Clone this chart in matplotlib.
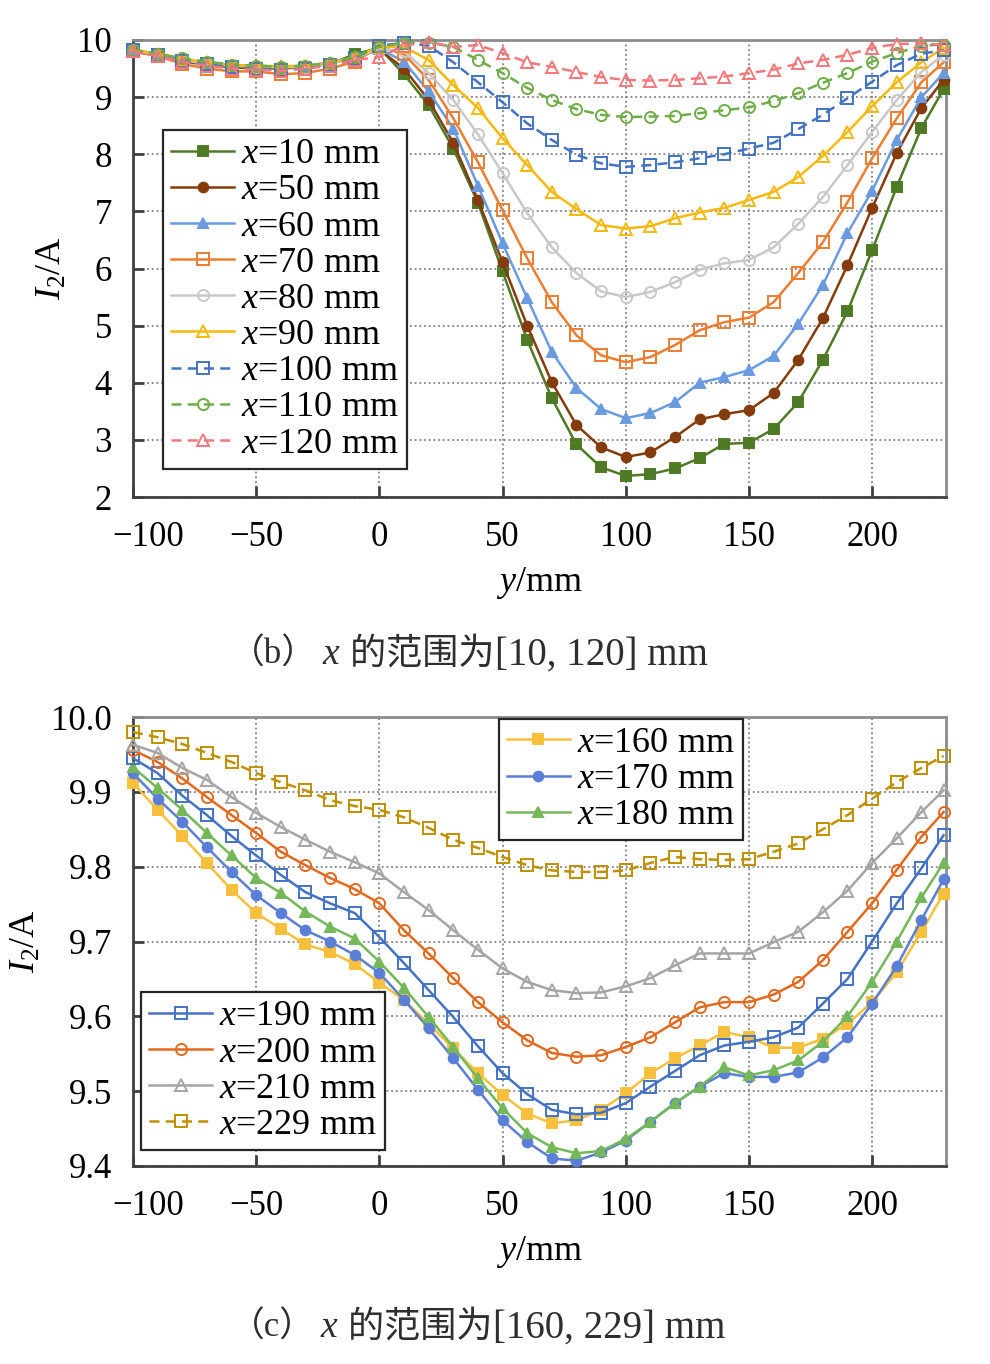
# 两幅 I2 随 y 变化曲线（b、c）
import matplotlib.pyplot as plt
from matplotlib.ticker import FormatStrFormatter
from matplotlib.transforms import ScaledTranslation

plt.rcParams['font.family'] = ['Liberation Serif', 'Noto Sans CJK SC']
plt.rcParams['mathtext.fontset'] = 'custom'
plt.rcParams['mathtext.rm'] = 'Liberation Serif'
plt.rcParams['mathtext.it'] = 'Liberation Serif:italic'
plt.rcParams['axes.unicode_minus'] = True

# 测量点位置 y/mm
y_pos = [-100, -90, -80, -70, -60, -50, -40, -30, -20, -10, 0,
         10, 20, 30, 40, 50, 60, 70, 80, 90, 100, 110, 120, 130, 140,
         150, 160, 170, 180, 190, 200, 210, 220, 229]

# ---- (b) x = 10 ~ 120 mm ----
i_10 = [9.82, 9.74, 9.62, 9.57, 9.52, 9.50, 9.50, 9.52, 9.58, 9.75, 9.86,
        9.40, 8.86, 8.10, 7.15, 5.95, 4.75, 3.73, 2.92, 2.52, 2.37, 2.40, 2.50,
        2.68, 2.93, 2.95, 3.19, 3.66, 4.40, 5.25, 6.32, 7.43, 8.46, 9.14]
i_50 = [9.80, 9.73, 9.63, 9.58, 9.53, 9.52, 9.51, 9.54, 9.60, 9.70, 9.83,
        9.50, 8.95, 8.20, 7.20, 6.11, 5.00, 4.01, 3.26, 2.87, 2.70, 2.78, 3.05,
        3.36, 3.45, 3.52, 3.82, 4.40, 5.13, 6.06, 7.06, 8.02, 8.81, 9.30]
i_60 = [9.82, 9.75, 9.66, 9.60, 9.55, 9.55, 9.53, 9.55, 9.60, 9.70, 9.85,
        9.62, 9.10, 8.45, 7.45, 6.44, 5.48, 4.54, 3.91, 3.54, 3.38, 3.47, 3.66,
        4.00, 4.10, 4.22, 4.47, 5.03, 5.71, 6.62, 7.36, 8.25, 9.00, 9.42]
i_70 = [9.80, 9.72, 9.58, 9.50, 9.45, 9.45, 9.40, 9.42, 9.50, 9.62, 9.88,
        9.75, 9.30, 8.63, 7.86, 7.02, 6.18, 5.41, 4.83, 4.48, 4.36, 4.45, 4.66,
        4.92, 5.06, 5.14, 5.41, 5.92, 6.46, 7.16, 7.93, 8.63, 9.26, 9.61]
i_80 = [9.82, 9.75, 9.65, 9.58, 9.55, 9.53, 9.52, 9.53, 9.58, 9.68, 9.85,
        9.80, 9.42, 8.95, 8.35, 7.67, 6.97, 6.37, 5.92, 5.60, 5.50, 5.59, 5.76,
        5.98, 6.09, 6.15, 6.37, 6.78, 7.25, 7.81, 8.39, 8.95, 9.44, 9.74]
i_90 = [9.83, 9.76, 9.67, 9.61, 9.56, 9.55, 9.54, 9.55, 9.60, 9.70, 9.88,
        9.88, 9.65, 9.21, 8.81, 8.28, 7.81, 7.34, 7.04, 6.76, 6.70, 6.74, 6.88,
        6.98, 7.06, 7.20, 7.34, 7.60, 7.97, 8.39, 8.84, 9.26, 9.61, 9.86]
i_100 = [9.82, 9.74, 9.64, 9.58, 9.52, 9.50, 9.48, 9.50, 9.56, 9.68, 9.90,
         9.95, 9.90, 9.61, 9.26, 8.91, 8.54, 8.25, 7.99, 7.84, 7.78, 7.81, 7.86,
         7.93, 8.00, 8.10, 8.20, 8.44, 8.69, 8.98, 9.27, 9.56, 9.76, 9.82]
i_110 = [9.83, 9.76, 9.68, 9.62, 9.57, 9.55, 9.53, 9.55, 9.60, 9.70, 9.88,
         9.95, 9.95, 9.88, 9.65, 9.42, 9.16, 8.95, 8.79, 8.69, 8.65, 8.66, 8.67,
         8.72, 8.77, 8.82, 8.93, 9.07, 9.25, 9.42, 9.62, 9.77, 9.90, 9.92]
i_120 = [9.80, 9.72, 9.62, 9.55, 9.50, 9.48, 9.46, 9.50, 9.55, 9.65, 9.70,
         9.90, 9.97, 9.88, 9.91, 9.77, 9.61, 9.53, 9.44, 9.35, 9.30, 9.29, 9.30,
         9.33, 9.36, 9.42, 9.48, 9.59, 9.65, 9.74, 9.86, 9.93, 9.94, 9.91]
labels_b = ['10', '50', '60', '70', '80', '90', '100', '110', '120']

# ---- (c) x = 160 ~ 229 mm ----
i_160 = [9.912, 9.876, 9.841, 9.805, 9.769, 9.738, 9.717, 9.696, 9.686, 9.670, 9.645,
         9.622, 9.590, 9.557, 9.524, 9.495, 9.470, 9.457, 9.461, 9.475, 9.497, 9.524,
         9.544, 9.561, 9.579, 9.572, 9.558, 9.558, 9.570, 9.590, 9.619, 9.659, 9.713, 9.764]
i_170 = [9.925, 9.891, 9.860, 9.826, 9.793, 9.762, 9.738, 9.715, 9.700, 9.682, 9.658,
         9.622, 9.584, 9.544, 9.502, 9.461, 9.432, 9.410, 9.407, 9.418, 9.434, 9.459,
         9.484, 9.506, 9.524, 9.519, 9.519, 9.525, 9.545, 9.572, 9.617, 9.667, 9.729, 9.783]
i_180 = [9.933, 9.905, 9.876, 9.845, 9.815, 9.785, 9.765, 9.740, 9.720, 9.704, 9.673,
         9.638, 9.599, 9.559, 9.517, 9.477, 9.444, 9.425, 9.417, 9.420, 9.436, 9.459,
         9.484, 9.506, 9.532, 9.521, 9.528, 9.541, 9.566, 9.600, 9.646, 9.700, 9.759, 9.805]
i_190 = [9.945, 9.925, 9.895, 9.869, 9.841, 9.815, 9.789, 9.766, 9.751, 9.738, 9.706,
         9.671, 9.635, 9.599, 9.560, 9.524, 9.496, 9.475, 9.469, 9.471, 9.484, 9.506,
         9.527, 9.548, 9.561, 9.566, 9.572, 9.585, 9.617, 9.650, 9.700, 9.751, 9.798, 9.842]
i_200 = [9.956, 9.940, 9.918, 9.893, 9.869, 9.845, 9.820, 9.802, 9.785, 9.770, 9.751,
         9.715, 9.684, 9.651, 9.619, 9.592, 9.568, 9.551, 9.546, 9.548, 9.559, 9.572,
         9.592, 9.612, 9.619, 9.619, 9.629, 9.646, 9.675, 9.713, 9.751, 9.796, 9.840, 9.873]
i_210 = [9.963, 9.952, 9.932, 9.916, 9.893, 9.872, 9.853, 9.836, 9.820, 9.806, 9.791,
         9.766, 9.742, 9.715, 9.689, 9.664, 9.646, 9.635, 9.631, 9.632, 9.640, 9.651,
         9.668, 9.684, 9.684, 9.684, 9.699, 9.713, 9.739, 9.768, 9.805, 9.838, 9.873, 9.902]
i_229 = [9.980, 9.973, 9.964, 9.952, 9.940, 9.925, 9.913, 9.902, 9.889, 9.881, 9.876,
         9.866, 9.852, 9.836, 9.825, 9.813, 9.802, 9.795, 9.793, 9.793, 9.795, 9.805,
         9.813, 9.810, 9.809, 9.810, 9.820, 9.831, 9.850, 9.869, 9.891, 9.913, 9.932, 9.948]
labels_c = ['160', '170', '180', '190', '200', '210', '229']

dash = (0, (4, 2.5))
# 样式: 颜色, 标记, 是否实心, 线型
styles_b = [('#4e7a26', 's', True, '-'), ('#843c0c', 'o', True, '-'),
            ('#6a9be0', '^', True, '-'), ('#ed7d31', 's', False, '-'),
            ('#c8c8c8', 'o', False, '-'), ('#f5b90f', '^', False, '-'),
            ('#4472c4', 's', False, dash), ('#70ad47', 'o', False, dash),
            ('#f4787c', '^', False, dash)]
styles_c = [('#f7c03c', 's', True, '-'), ('#5b7fd6', 'o', True, '-'),
            ('#74b85a', '^', True, '-'), ('#4472c4', 's', False, '-'),
            ('#e3691e', 'o', False, '-'), ('#a5a5a5', '^', False, '-'),
            ('#bf9000', 's', False, dash)]

fig = plt.figure(figsize=(9.9, 13.64), dpi=100)
ax_b = fig.add_axes([0.1343, 0.6356, 0.8213, 0.3351])
ax_c = fig.add_axes([0.1343, 0.1452, 0.8213, 0.3291])


def plot_lines(ax, data, styles, labels):
    lines = []
    for vals, (clr, mk, filled, ls), lab in zip(data, styles, labels):
        size = 7 if filled else 8
        ln, = ax.plot(y_pos, vals, color=clr, linestyle=ls, linewidth=1.8,
                      marker=mk, markersize=size,
                      markerfacecolor=clr if filled else 'none',
                      markeredgecolor=clr, markeredgewidth=1.4,
                      label='$x$=' + lab + ' mm', clip_on=False, zorder=3)
        lines.append(ln)
    return lines


def style_axes(ax):
    ax.set_xlim(-100, 230)
    ax.set_xticks([-100, -50, 0, 50, 100, 150, 200])
    ax.set_axisbelow(True)
    ax.grid(True, linestyle=(0, (1, 1.6)), color='#808080', linewidth=1.3)
    for side in ['left', 'bottom']:
        ax.spines[side].set_color('#404040')
        ax.spines[side].set_linewidth(2)
    for side in ['top', 'right']:
        ax.spines[side].set_color('#8c8c8c')
        ax.spines[side].set_linewidth(2)
    ax.tick_params(direction='in', length=8, width=2, color='#404040', labelsize=25)
    ax.tick_params(axis='x', pad=17)
    ax.tick_params(axis='y', pad=15)
    ax.set_xlabel('$y$/mm', fontsize=26, labelpad=8)
    ax.set_ylabel('$I_2$/A', fontsize=26, labelpad=6)
    # 第一个刻度标签稍微右移
    lab0 = ax.get_xticklabels()[0]
    lab0.set_transform(lab0.get_transform() + ScaledTranslation(0.15, 0, fig.dpi_scale_trans))


def make_legend(ax, handles, loc, anchor):
    leg = ax.legend(handles=handles, loc=loc, bbox_to_anchor=anchor, borderaxespad=0,
                    fontsize=26, handlelength=1.75, handletextpad=0.2,
                    labelspacing=0.08, borderpad=0.22, fancybox=False,
                    framealpha=1, edgecolor='#262626')
    leg.get_frame().set_linewidth(1.6)
    return leg


# (b)
lines_b = plot_lines(ax_b, [i_10, i_50, i_60, i_70, i_80, i_90, i_100, i_110, i_120],
                     styles_b, labels_b)
ax_b.set_ylim(2, 10)
ax_b.set_yticks(range(2, 11))
style_axes(ax_b)
make_legend(ax_b, lines_b, 'upper left', (0.037, 0.803))

# (c)
lines_c = plot_lines(ax_c, [i_160, i_170, i_180, i_190, i_200, i_210, i_229],
                     styles_c, labels_c)
ax_c.set_ylim(9.4, 10.0)
ax_c.set_yticks([9.4, 9.5, 9.6, 9.7, 9.8, 9.9, 10.0])
ax_c.yaxis.set_major_formatter(FormatStrFormatter('%.1f'))
style_axes(ax_c)
leg1 = make_legend(ax_c, lines_c[:3], 'upper right', (0.750, 0.996))
ax_c.add_artist(leg1)
make_legend(ax_c, lines_c[3:], 'lower left', (0.010, 0.036))


# 图注: （b）x 的范围为[10, 120] mm
def caption(y, tag, rng):
    clr = '#2e2e2e'
    parts = [('（' + tag + '）', 25, 'normal', 6),
             ('x', 27, 'italic', 2),
             (' 的范围为', 26, 'normal', 0),
             (rng + ' mm', 28, 'normal', 0)]
    x = 0.232 * fig.bbox.width
    r = fig.canvas.get_renderer()
    for txt, size, st, gap in parts:
        t = fig.text(x / fig.bbox.width, y, txt, fontsize=size, style=st,
                     color=clr, va='center')
        x = t.get_window_extent(r).x1 + gap


caption(1 - 655 / 1364, 'b', '[10, 120]')
caption(1 - 1328 / 1364, 'c', '[160, 229]')

fig.savefig('out.png', dpi=100, facecolor='white')
